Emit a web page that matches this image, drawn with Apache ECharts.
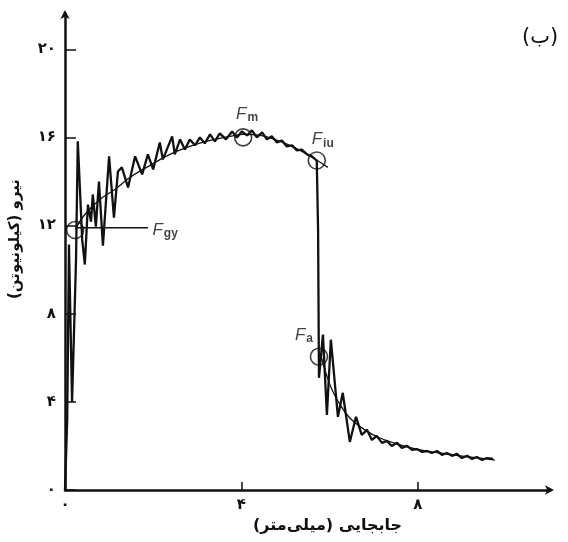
<!DOCTYPE html>
<html>
<head>
<meta charset="utf-8">
<script src="https://cdn.jsdelivr.net/npm/echarts@6/dist/echarts.min.js"></script>
<style>html,body{margin:0;padding:0;background:#fff;}#c{width:568px;height:542px;}</style>
</head>
<body>
<div id="c"></div>
<script>
// Recorded (noisy) force–displacement curve
const recDisp = [0,0.05,0.09,0.16,0.20,0.25,0.29,0.39,0.45,0.52,0.59,0.63,0.70,0.77,0.86,1.00,1.11,1.20,1.29,1.43,1.59,1.75,1.88,2.00,2.15,2.22,2.43,2.49,2.61,2.72,2.83,2.95,3.06,3.17,3.29,3.40,3.51,3.65,3.79,3.90,4.01,4.13,4.24,4.35,4.47,4.58,4.69,4.81,4.92,5.03,5.15,5.26,5.37,5.49,5.60,5.71,5.74,5.76,5.85,5.94,6.03,6.19,6.30,6.46,6.60,6.73,6.85,6.96,7.07,7.19,7.30,7.41,7.53,7.64,7.76,7.87,7.98,8.10,8.21,8.32,8.44,8.55,8.66,8.78,8.89,9.00,9.12,9.23,9.34,9.46,9.57,9.71];
const recForce = [0,3.18,11.14,4.0,4.0,10.45,15.82,11.36,10.23,12.95,12.18,13.41,11.95,14.0,11.09,15.14,12.36,14.45,14.64,13.73,15.14,14.32,15.23,14.55,15.77,15.0,16.05,15.23,15.91,15.45,15.91,15.64,16.0,15.73,16.14,15.82,16.18,15.91,16.27,16.0,16.27,16.09,16.32,16.0,16.23,15.91,16.05,15.77,15.86,15.59,15.64,15.41,15.45,15.23,15.14,14.95,11.82,5.09,7.05,3.41,6.82,3.32,4.41,2.18,3.32,2.5,2.73,2.27,2.45,2.14,2.23,2.0,2.14,1.91,2.0,1.82,1.86,1.73,1.77,1.68,1.77,1.59,1.68,1.55,1.64,1.45,1.55,1.41,1.5,1.36,1.45,1.41];
// Smoothed curve, pre-peak branch
const fitUpDisp = [0.23,0.45,0.79,1.13,1.47,1.93,2.38,2.83,3.29,3.74,4.04,4.42,4.88,5.33,5.69,5.96];
const fitUpForce = [11.82,12.5,13.18,13.64,14.18,14.73,15.23,15.59,15.86,16.05,16.14,16.09,15.82,15.41,15.0,14.64];
// Smoothed curve, post-failure branch
const fitDownDisp = [5.80,6.01,6.24,6.46,6.80,7.14,7.60,8.05,8.50,8.96,9.41,9.75];
const fitDownForce = [6.14,4.77,3.86,3.27,2.73,2.36,2.05,1.82,1.68,1.55,1.45,1.36];
// Characteristic points
const pointNames = ['gy','m','iu','a'];
const pointDisp = [0.23,4.04,5.71,5.76];
const pointForce = [11.8,16.0,14.95,6.05];
// Leader line for F_gy
const leaderDisp = [0.27,1.88];
const leaderForce = [11.9,11.9];
// Axes
const xTickValues = [0,4,8];
const xTickLabels = ['۰','۴','۸'];
const yTickValues = [0,4,8,12,16,20];
const yTickLabels = ['۰','۴','۸','۱۲','۱۶','۲۰'];
const xName = 'جابجایی (میلی\u200cمتر)';
const yName = 'نیرو (کیلونیوتن)';
const panelTag = '(ب)';

const zip = (a, b) => a.map((v, i) => [v, b[i]]);
const fa = 'DejaVu Sans';
const black = '#111';

const labelCfg = {
  gy: { position: 'right', distance: 68 },
  m:  { position: 'top', distance: 4, offset: [4, 0] },
  iu: { position: 'top', distance: 2, offset: [6, 0] },
  a:  { position: 'top', distance: 1, offset: [-15, -2] }
};

const chart = echarts.init(document.getElementById('c'), null, { renderer: 'canvas' });
chart.setOption({
  animation: false,
  backgroundColor: '#fff',
  grid: { left: 65, top: 14, right: 18, bottom: 52 },
  xAxis: {
    type: 'value', min: 0, max: 11,
    name: xName, nameLocation: 'middle', nameGap: 27,
    nameTextStyle: { fontFamily: fa, fontSize: 16, fontWeight: 'bold', color: black, padding: [0, 0, 0, 40] },
    axisLine: { lineStyle: { color: black, width: 2.5 }, symbol: ['none', 'arrow'], symbolSize: [7, 9], symbolOffset: [0, 4] },
    axisTick: { inside: true, length: 8, lineStyle: { color: black, width: 1.5 }, customValues: xTickValues },
    axisLabel: { customValues: xTickValues, margin: 8, fontFamily: fa, fontSize: 15, fontWeight: 'bold', color: black,
      formatter: v => xTickLabels[xTickValues.indexOf(v)] },
    splitLine: { show: false }
  },
  yAxis: {
    type: 'value', min: 0, max: 21.6,
    name: yName, nameLocation: 'middle', nameGap: 42, nameRotate: 90,
    nameTextStyle: { fontFamily: fa, fontSize: 15, fontWeight: 'bold', color: black, padding: [0, 0, 0, 26] },
    axisLine: { lineStyle: { color: black, width: 2.5 }, symbol: ['none', 'arrow'], symbolSize: [7, 9], symbolOffset: [0, 4] },
    axisTick: { inside: true, length: 11, lineStyle: { color: black, width: 1.5 }, customValues: yTickValues },
    axisLabel: { customValues: yTickValues, margin: 9, fontFamily: fa, fontSize: 15, fontWeight: 'bold', color: black,
      formatter: v => yTickLabels[yTickValues.indexOf(v)] },
    splitLine: { show: false }
  },
  graphic: [{
    type: 'text', left: 522, top: 27,
    style: { text: panelTag, font: '21px "DejaVu Sans"', fill: black }
  }],
  series: [
    { type: 'line', data: zip(recDisp, recForce), showSymbol: false, symbol: 'none',
      lineStyle: { color: black, width: 2.3 }, z: 3 },
    { type: 'line', data: zip(fitUpDisp, fitUpForce), smooth: 0.4, showSymbol: false, symbol: 'none',
      lineStyle: { color: black, width: 1.3 }, z: 2 },
    { type: 'line', data: zip(fitDownDisp, fitDownForce), smooth: 0.4, showSymbol: false, symbol: 'none',
      lineStyle: { color: black, width: 1.3 }, z: 2 },
    { type: 'line', data: zip(leaderDisp, leaderForce), showSymbol: false, symbol: 'none',
      lineStyle: { color: black, width: 1.4 }, z: 2 },
    { type: 'scatter', symbol: 'circle', symbolSize: 17, z: 4,
      itemStyle: { color: 'rgba(0,0,0,0)', borderColor: black, borderWidth: 1.6 },
      data: pointNames.map((n, i) => ({
        value: [pointDisp[i], pointForce[i]],
        label: Object.assign({
          show: true,
          formatter: '{f|F}{s|' + n + '}',
          rich: {
            f: { fontFamily: 'Liberation Sans', fontStyle: 'italic', fontSize: 17, color: black },
            s: { fontFamily: 'Liberation Sans', fontSize: 12, fontWeight: 'bold', color: black, padding: [7, 0, 0, 1] }
          }
        }, labelCfg[n])
      }))
    }
  ]
});
</script>
</body>
</html>
